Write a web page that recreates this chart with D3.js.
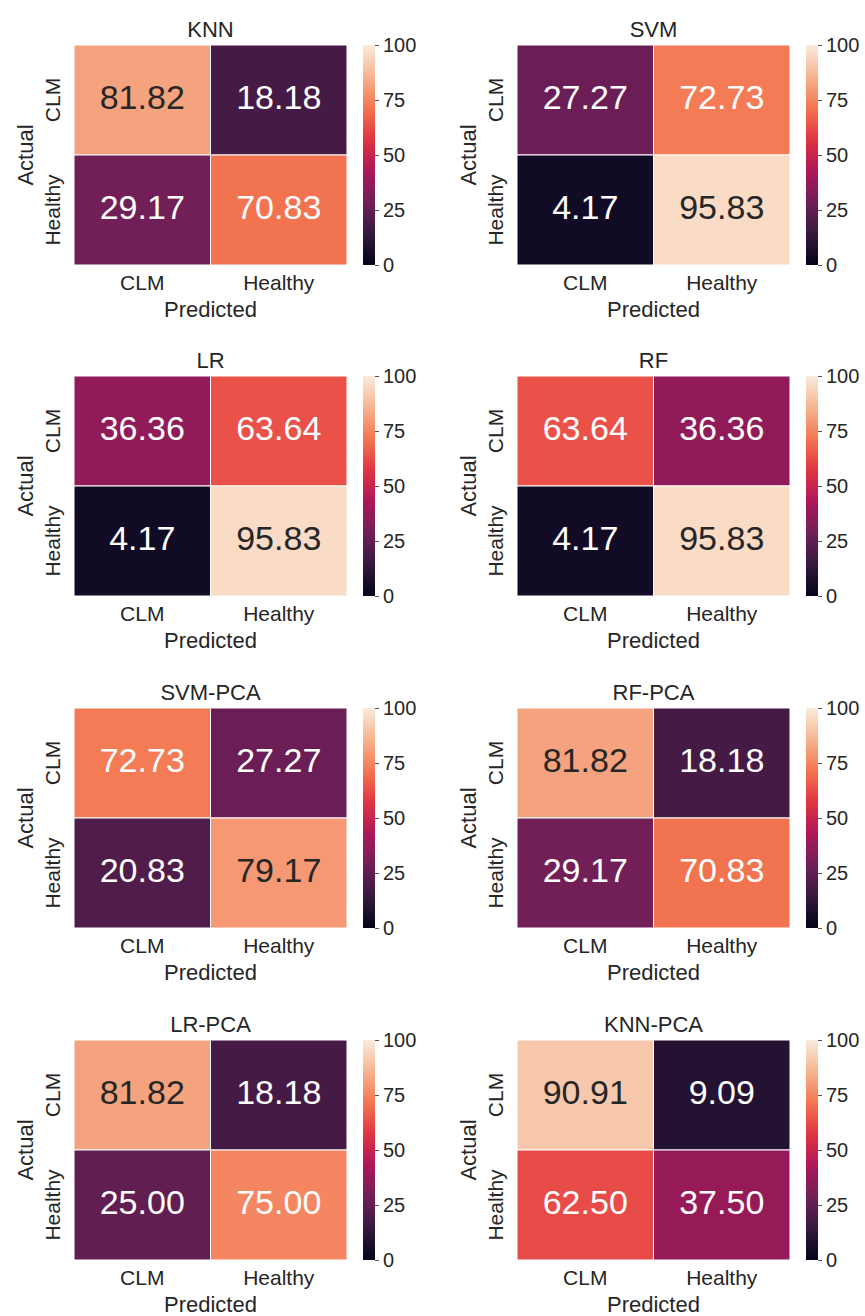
<!DOCTYPE html>
<html>
<head>
<meta charset="utf-8">
<script src="https://cdn.jsdelivr.net/npm/d3@7"></script>
<style>
  html, body { margin: 0; padding: 0; background: #ffffff; }
  svg { display: block; font-family: "Liberation Sans", Arial, sans-serif; }
</style>
</head>
<body>
<svg id="chart" width="865" height="1316"></svg>
<script>
// ---- data ----
const models = ["KNN", "SVM", "LR", "RF", "SVM-PCA", "RF-PCA", "LR-PCA", "KNN-PCA"];
const predictedLabels = ["CLM", "Healthy"];
const actualLabels = ["CLM", "Healthy"];
// row-major: [CLM->CLM, CLM->Healthy, Healthy->CLM, Healthy->Healthy]
const knnValues    = [81.82, 18.18, 29.17, 70.83];
const svmValues    = [27.27, 72.73, 4.17, 95.83];
const lrValues     = [36.36, 63.64, 4.17, 95.83];
const rfValues     = [63.64, 36.36, 4.17, 95.83];
const svmPcaValues = [72.73, 27.27, 20.83, 79.17];
const rfPcaValues  = [81.82, 18.18, 29.17, 70.83];
const lrPcaValues  = [81.82, 18.18, 25.00, 75.00];
const knnPcaValues = [90.91, 9.09, 62.50, 37.50];
const colorbarTicks = [0, 25, 50, 75, 100];

const allValues = [knnValues, svmValues, lrValues, rfValues, svmPcaValues, rfPcaValues, lrPcaValues, knnPcaValues];

// ---- seaborn "rocket" approximation ----
const rocketStops = [0, 1/7, 2/7, 3/7, 4/7, 5/7, 6/7, 1];
const rocketColors = ["#03051a", "#35193e", "#701f57", "#ad1759", "#e13342", "#f37651", "#f6b48f", "#faebdd"];
const rocket = d3.scaleLinear().domain(rocketStops).range(rocketColors).interpolate(d3.interpolateRgb);
const color = v => rocket(v / 100);

function luminance(c) {
  const rgb = d3.rgb(c);
  const f = x => { x /= 255; return x <= 0.03928 ? x / 12.92 : Math.pow((x + 0.055) / 1.055, 2.4); };
  return 0.2126 * f(rgb.r) + 0.7152 * f(rgb.g) + 0.0722 * f(rgb.b);
}

const svg = d3.select("#chart");
const textColor = "#262626";

// gradient for colorbar
const defs = svg.append("defs");
const grad = defs.append("linearGradient").attr("id", "rocketGrad")
  .attr("x1", 0).attr("y1", 1).attr("x2", 0).attr("y2", 0);
d3.range(0, 1.0001, 0.02).forEach(t => {
  grad.append("stop").attr("offset", t).attr("stop-color", rocket(t));
});

const W = 273, H = 220;
const colLeft = [74, 517];
const rowTop = [45, 376, 708, 1040];

models.forEach((name, i) => {
  const values = allValues[i];
  const left = colLeft[i % 2];
  const top = rowTop[Math.floor(i / 2)];
  const g = svg.append("g").attr("transform", `translate(${left},${top})`);

  const x = d3.scaleBand().domain(predictedLabels).range([0, W]);
  const y = d3.scaleBand().domain(actualLabels).range([0, H]);

  const cells = [];
  actualLabels.forEach((a, r) => predictedLabels.forEach((p, c) => {
    cells.push({ a, p, v: values[r * 2 + c] });
  }));

  g.selectAll("rect.cell").data(cells).join("rect")
    .attr("class", "cell")
    .attr("x", d => x(d.p)).attr("y", d => y(d.a))
    .attr("width", x.bandwidth()).attr("height", y.bandwidth())
    .attr("fill", d => color(d.v))
    .attr("stroke", "#ffffff").attr("stroke-width", 1);

  g.selectAll("text.annot").data(cells).join("text")
    .attr("class", "annot")
    .attr("x", d => x(d.p) + x.bandwidth() / 2)
    .attr("y", d => y(d.a) + y.bandwidth() / 2 + 9)
    .attr("text-anchor", "middle")
    .attr("font-size", 34)
    .attr("fill", d => luminance(color(d.v)) > 0.408 ? textColor : "#ffffff")
    .text(d => d.v.toFixed(2));

  // x axis
  const xa = g.append("g").attr("transform", `translate(0,${H})`)
    .call(d3.axisBottom(x).tickSize(0).tickPadding(10));
  xa.select(".domain").remove();
  xa.selectAll("text").attr("font-size", 21).attr("fill", textColor).attr("font-family", null);

  // y axis (rotated labels)
  const ya = g.append("g").call(d3.axisLeft(y).tickSize(0));
  ya.select(".domain").remove();
  ya.selectAll("text")
    .attr("font-size", 21).attr("fill", textColor).attr("font-family", null)
    .attr("transform", "rotate(-90)")
    .attr("x", 0).attr("y", -14).attr("dy", 0)
    .attr("text-anchor", "middle");

  // titles
  g.append("text").attr("x", W / 2).attr("y", -8).attr("text-anchor", "middle")
    .attr("font-size", 22).attr("fill", textColor).text(name);
  g.append("text").attr("x", W / 2).attr("y", H + 52).attr("text-anchor", "middle")
    .attr("font-size", 22).attr("fill", textColor).text("Predicted");
  g.append("text").attr("transform", `translate(-41,${H / 2}) rotate(-90)`)
    .attr("text-anchor", "middle")
    .attr("font-size", 22).attr("fill", textColor).text("Actual");

  // colorbar
  const cbX = W + 16, cbW = 12;
  g.append("rect").attr("x", cbX).attr("y", 0).attr("width", cbW).attr("height", H)
    .attr("fill", "url(#rocketGrad)");
  const cs = d3.scaleLinear().domain([0, 100]).range([H, 0]);
  const ca = g.append("g").attr("transform", `translate(${cbX + cbW},0)`)
    .call(d3.axisRight(cs).tickValues(colorbarTicks).tickSize(4).tickPadding(4));
  ca.select(".domain").remove();
  ca.selectAll("line").attr("stroke", "#555555");
  ca.selectAll("text").attr("font-size", 20).attr("fill", textColor).attr("font-family", null);
});
</script>
</body>
</html>
